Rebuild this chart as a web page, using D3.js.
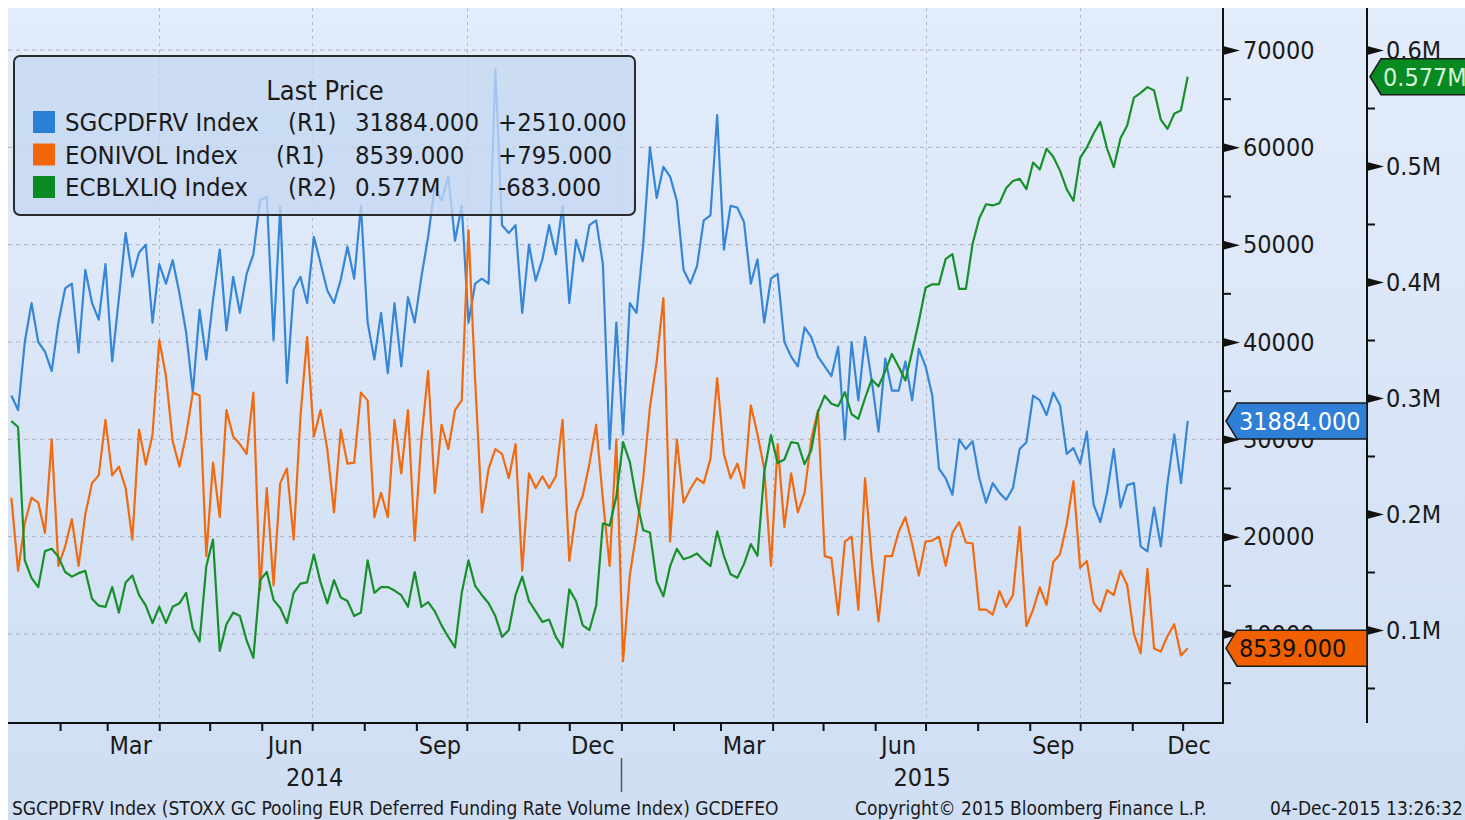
<!DOCTYPE html>
<html><head><meta charset="utf-8">
<script src="https://cdn.jsdelivr.net/npm/d3@7"></script>
<style>
html,body{margin:0;padding:0;background:#fff;}
svg{display:block;}
text{font-family:'DejaVu Sans Condensed','DejaVu Sans',sans-serif;font-stretch:condensed;}
</style>
</head><body>
<svg id="c" width="1465" height="820"></svg>
<script>
// ---------- DATA ----------
const seriesNames = ["SGCPDFRV Index","EONIVOL Index","ECBLXLIQ Index"];
const seriesAxis = ["(R1)","(R1)","(R2)"];
const lastPrice = ["31884.000","8539.000","0.577M"];
const netChange = ["+2510.000","+795.000","-683.000"];
const startDate = new Date(2014,0,3);   // first observation
const stepDays = 4;                       // spacing of the sampled observations

const sgcpdfrv = [34500,33000,40000,44000,40000,39000,37000,42000,45500,46000,
38900,47400,44000,42300,48000,38000,44500,51200,46700,49200,
50000,42000,48000,46000,48400,45000,41000,34800,43300,38200,
44300,49500,41200,46700,43000,47000,49000,54600,54900,40200,
53900,35800,45400,46700,44000,50800,48100,45300,44000,46400,
49800,46500,54000,42000,38200,43000,36800,44000,37500,44600,
42000,46700,50800,56000,54500,57000,50400,54000,42000,46000,
46500,46000,68000,52000,51200,52000,43000,50000,46300,48500,
52000,49000,54000,44000,50500,48300,52000,52500,48000,29000,
42000,30500,44000,43000,50000,60000,54800,58000,57000,54500,
47400,46000,47800,52500,53000,63300,49500,54000,53800,52300,
46000,48500,42000,46500,47000,40000,38500,37500,41500,40500,
38500,37500,36500,39500,30000,40000,34000,40500,36000,30800,
38300,35000,35000,38000,34000,39300,37500,34500,27000,26000,
24300,30000,29000,29800,26000,23500,25500,24500,23800,25000,
29000,29700,34500,34000,32500,34800,33500,28500,29100,27500,
30800,23300,21500,24500,29000,23000,25300,25500,19000,18500,
23000,19000,25500,30500,25500,31884];

const eonivol = [24000,16500,21400,24000,23500,20400,30000,17000,19000,21800,
17000,22300,25500,26300,32000,26300,27200,25000,19700,31000,
27400,30500,40200,36500,29800,27200,30500,34800,34500,18000,
27600,22000,33000,30300,29500,28500,34800,14500,25000,15000,
25500,27000,19700,32300,40500,30300,33000,29000,22500,31000,
27500,27600,34800,34000,22000,24500,22000,32000,26500,33000,
19600,30000,37000,24500,31500,29000,33000,34000,51500,36000,
22500,27000,29000,28500,26000,29500,16500,26500,25000,26200,
25000,26200,32000,17500,22500,24200,27500,31500,23800,17000,
30000,7200,16000,20500,26000,33300,38000,44500,19500,30000,
23500,24900,26000,25500,28000,36300,28500,26000,27500,25000,
33500,30500,27000,17000,29500,21000,26500,22500,24500,30000,
33000,18000,17800,12000,19500,20000,12500,26000,17500,11300,
18000,18000,20500,22000,19300,16000,19500,19600,20000,17000,
20400,21500,19400,19300,12500,12500,12000,14400,12800,14000,
21000,10800,12500,14800,13000,17400,18200,21300,25700,16800,
17500,13200,12300,14500,14000,16500,15000,10000,8000,16700,
8500,8200,9800,11000,7800,8539];

const ecblxliq = [0.280,0.275,0.160,0.145,0.137,0.168,0.170,0.163,0.150,0.146,
0.149,0.151,0.127,0.121,0.120,0.137,0.115,0.141,0.147,0.130,
0.121,0.106,0.120,0.106,0.120,0.123,0.132,0.101,0.090,0.155,
0.178,0.082,0.105,0.115,0.112,0.091,0.076,0.143,0.150,0.126,
0.119,0.106,0.132,0.140,0.141,0.165,0.141,0.123,0.143,0.128,
0.125,0.112,0.115,0.160,0.132,0.137,0.137,0.134,0.130,0.120,
0.150,0.120,0.124,0.116,0.104,0.094,0.085,0.132,0.160,0.138,
0.130,0.123,0.112,0.094,0.100,0.130,0.146,0.125,0.116,0.107,
0.109,0.094,0.085,0.135,0.125,0.104,0.100,0.121,0.192,0.190,
0.215,0.262,0.245,0.212,0.186,0.184,0.142,0.129,0.155,0.170,
0.161,0.163,0.166,0.160,0.155,0.185,0.164,0.148,0.145,0.157,
0.174,0.164,0.236,0.268,0.244,0.247,0.262,0.261,0.243,0.255,
0.288,0.302,0.295,0.293,0.305,0.286,0.282,0.300,0.316,0.310,
0.323,0.338,0.327,0.315,0.340,0.366,0.395,0.398,0.398,0.420,
0.424,0.394,0.394,0.433,0.455,0.467,0.466,0.468,0.481,0.487,
0.489,0.480,0.503,0.497,0.515,0.508,0.496,0.480,0.470,0.507,
0.516,0.528,0.538,0.515,0.499,0.524,0.535,0.559,0.563,0.568,
0.565,0.540,0.532,0.545,0.548,0.577];

const r1Ticks = [10000,20000,30000,40000,50000,60000,70000];
const r1Minor = [5000,15000,25000,35000,45000,55000,65000];
const r2Ticks = [0.1,0.2,0.3,0.4,0.5,0.6];
const r2Minor = [0.05,0.15,0.25,0.35,0.45,0.55];
const labelMonths = [2,5,8,11];   // Mar, Jun, Sep, Dec
const years = [2014,2015];
const footerLeft = "SGCPDFRV Index (STOXX GC Pooling EUR Deferred Funding Rate Volume Index) GCDEFEO";
const footerMid = "Copyright\u00A9 2015 Bloomberg Finance L.P.";
const footerRight = "04-Dec-2015 13:26:32";

// ---------- STYLE ----------
const colors = ["#3686d8","#f26a10","#17902a"];
const swatch = ["#2c7fd6","#f26508","#0c8a22"];
const W = 1465, H = 820;
const P = {l:8, t:8, r:1223, b:723};
const R2X = 1367;

const svg = d3.select("#c");
const defs = svg.append("defs");
const grad = defs.append("linearGradient").attr("id","bg").attr("x1",0).attr("y1",0).attr("x2",0).attr("y2",1);
grad.append("stop").attr("offset","0%").attr("stop-color","#e3ecfa");
grad.append("stop").attr("offset","100%").attr("stop-color","#cfdef3");
defs.append("clipPath").attr("id","clip").append("rect")
  .attr("x",P.l).attr("y",P.t).attr("width",P.r-P.l).attr("height",P.b-P.t);

svg.append("rect").attr("x",8).attr("y",8).attr("width",W-8).attr("height",H-8).attr("fill","url(#bg)");

const dates = sgcpdfrv.map((_,i)=>d3.timeDay.offset(startDate,i*stepDays));
const x = d3.scaleTime().domain([new Date(2014,0,1), new Date(2015,11,25)]).range([P.l,P.r]);
const yR1 = d3.scaleLinear().domain([10000,70000]).range([634,50]);
const yR2 = d3.scaleLinear().domain([0.1,0.6]).range([630,50]);

// gridlines
const grid = svg.append("g");
grid.selectAll(".hg").data(r1Ticks).join("line")
  .attr("x1",P.l).attr("x2",P.r).attr("y1",d=>yR1(d)).attr("y2",d=>yR1(d))
  .attr("stroke","#a9b2c2").attr("stroke-width",1).attr("stroke-dasharray","4,4");
const quarters = d3.timeMonth.every(3).range(new Date(2014,1,1), new Date(2015,11,25));
grid.selectAll(".vg").data(quarters).join("line")
  .attr("x1",d=>Math.round(x(d))+0.5).attr("x2",d=>Math.round(x(d))+0.5).attr("y1",P.t).attr("y2",P.b)
  .attr("stroke","#b0b8c6").attr("stroke-width",1).attr("stroke-dasharray","3,4");

// series
const plot = svg.append("g").attr("clip-path","url(#clip)");
const series = [
  {v:sgcpdfrv, y:yR1, c:colors[0]},
  {v:eonivol, y:yR1, c:colors[1]},
  {v:ecblxliq, y:yR2, c:colors[2]}
];
series.forEach(s=>{
  const line = d3.line().x((d,i)=>x(dates[i])).y(d=>s.y(d));
  plot.append("path").datum(s.v).attr("d",line).attr("fill","none")
    .attr("stroke",s.c).attr("stroke-width",2.2).attr("stroke-linejoin","round");
});

// legend
const lg = svg.append("g");
lg.append("rect").attr("x",14).attr("y",56).attr("width",621).attr("height",159).attr("rx",6)
  .attr("fill","#c4d7f1").attr("fill-opacity",0.78).attr("stroke","#2b2b2b").attr("stroke-width",2);
lg.append("text").attr("x",325).attr("y",90).attr("dy","0.36em").attr("text-anchor","middle")
  .attr("font-size",27).attr("fill","#1a1a1a").text("Last Price");
const axX = [288,276,288];
seriesNames.forEach((n,i)=>{
  const cy = 122 + i*32.5;
  lg.append("rect").attr("x",33).attr("y",cy-11).attr("width",22).attr("height",22).attr("fill",swatch[i]);
  const t = (xx,s)=>lg.append("text").attr("x",xx).attr("y",cy).attr("dy","0.36em")
     .attr("font-size",25.5).attr("fill","#1a1a1a").text(s);
  t(65,n); t(axX[i],seriesAxis[i]); t(355,lastPrice[i]); t(498,netChange[i]);
});

// axes lines
const ax = svg.append("g");
ax.append("line").attr("x1",P.l).attr("x2",P.r+1).attr("y1",P.b).attr("y2",P.b).attr("stroke","#111").attr("stroke-width",2);
ax.append("line").attr("x1",P.r).attr("x2",P.r).attr("y1",P.t).attr("y2",P.b+1).attr("stroke","#111").attr("stroke-width",2);
ax.append("line").attr("x1",R2X).attr("x2",R2X).attr("y1",P.t).attr("y2",P.b).attr("stroke","#111").attr("stroke-width",2);

// R1 axis
const r1 = svg.append("g").attr("transform",`translate(${P.r},0)`)
  .call(d3.axisRight(yR1).tickValues(r1Ticks).tickSize(0).tickPadding(20).tickFormat(d3.format("d")));
r1.select(".domain").remove();
r1.selectAll(".tick text").attr("font-size",25).attr("fill","#1a1a1a").attr("font-family",null);
r1.selectAll(".tick").append("path").attr("d","M0,-4.5L17,0L0,4.5Z").attr("fill","#111");
const r1m = svg.append("g").attr("transform",`translate(${P.r},0)`)
  .call(d3.axisRight(yR1).tickValues(r1Minor).tickSize(8).tickFormat(""));
r1m.select(".domain").remove();
r1m.selectAll(".tick line").attr("stroke","#111").attr("stroke-width",2);

// R2 axis
const r2 = svg.append("g").attr("transform",`translate(${R2X},0)`)
  .call(d3.axisRight(yR2).tickValues(r2Ticks).tickSize(0).tickPadding(19).tickFormat(d=>d3.format(".1f")(d)+"M"));
r2.select(".domain").remove();
r2.selectAll(".tick text").attr("font-size",25).attr("fill","#1a1a1a").attr("font-family",null);
r2.selectAll(".tick").append("path").attr("d","M0,-4.5L17,0L0,4.5Z").attr("fill","#111");
const r2m = svg.append("g").attr("transform",`translate(${R2X},0)`)
  .call(d3.axisRight(yR2).tickValues(r2Minor).tickSize(8).tickFormat(""));
r2m.select(".domain").remove();
r2m.selectAll(".tick line").attr("stroke","#111").attr("stroke-width",2);

// X axis
const months = d3.timeMonth.range(new Date(2014,1,1), new Date(2015,11,25));
const xa = svg.append("g").attr("transform",`translate(0,${P.b})`)
  .call(d3.axisBottom(x).tickValues(months).tickSize(8).tickFormat(""));
xa.select(".domain").remove();
xa.selectAll(".tick line").attr("stroke","#111").attr("stroke-width",2);
const mLabels = months.filter(d=>labelMonths.includes(d.getMonth()));
svg.append("g").selectAll("text").data(mLabels).join("text")
  .attr("x",d=>Math.min(x(new Date(d.getFullYear(),d.getMonth(),15)), P.r-34)).attr("y",745).attr("dy","0.36em")
  .attr("text-anchor","middle").attr("font-size",25).attr("fill","#1a1a1a")
  .text(d3.timeFormat("%b"));
const domEnd = x.domain()[1];
svg.append("g").selectAll("text").data(years).join("text")
  .attr("x",yr=>{const a=x(new Date(yr,0,1)), b=x(d3.min([new Date(yr+1,0,1),domEnd])); return (a+b)/2;})
  .attr("y",777).attr("dy","0.36em").attr("text-anchor","middle").attr("font-size",25).attr("fill","#1a1a1a")
  .text(d=>d);
svg.append("g").selectAll("line").data(years.slice(1)).join("line")
  .attr("x1",yr=>Math.round(x(new Date(yr,0,1)))+0.5).attr("x2",yr=>Math.round(x(new Date(yr,0,1)))+0.5)
  .attr("y1",758).attr("y2",792).attr("stroke","#555").attr("stroke-width",1.5);

// last price tags
function tag(g, x0, cy, xEnd, fill, txtColor, label){
  const h = 18;
  g.append("path").attr("d",`M${x0},${cy}L${x0+11},${cy-h}L${xEnd},${cy-h}L${xEnd},${cy+h}L${x0+11},${cy+h}Z`)
    .attr("fill",fill).attr("stroke","#1a1a1a").attr("stroke-width",1.5);
  g.append("text").attr("x",x0+13).attr("y",cy).attr("dy","0.36em").attr("font-size",25)
    .attr("fill",txtColor).text(label);
}
const tg = svg.append("g");
tag(tg, P.r+3, yR1(sgcpdfrv[sgcpdfrv.length-1]), R2X, "#2f7fd6", "#ffffff", lastPrice[0]);
tag(tg, P.r+3, yR1(eonivol[eonivol.length-1]), R2X, "#f06000", "#111111", lastPrice[1]);
tag(tg, R2X+3, yR2(ecblxliq[ecblxliq.length-1]), W+20, "#088a22", "#d8f5d8", lastPrice[2]);

// footer
const ft = svg.append("g").attr("font-size",19).attr("fill","#1a1a1a");
ft.append("text").attr("x",12).attr("y",808).attr("dy","0.36em").text(footerLeft);
ft.append("text").attr("x",855).attr("y",808).attr("dy","0.36em").text(footerMid);
ft.append("text").attr("x",1270).attr("y",808).attr("dy","0.36em").text(footerRight);
</script>
</body></html>
